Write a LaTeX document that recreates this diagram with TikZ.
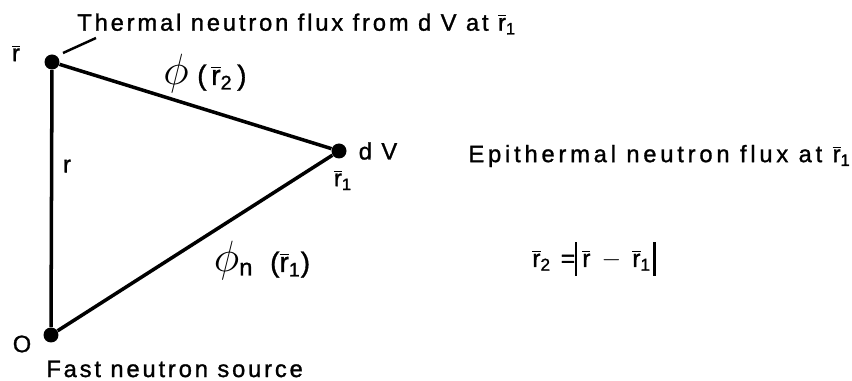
\documentclass[tikz,border=0pt]{standalone}
\usepackage{fontspec}
\setmainfont{Liberation Sans}[LetterSpace=12, FakeBold=1.2]
\usetikzlibrary{positioning}
\newcommand{\rb}{$\overline{\mbox{r}}$}
\newcommand{\rbs}[1]{$\overline{\mbox{r}}$\textsubscript{#1}}
\newcommand{\absbar}{\vrule width 1.3pt height 14pt depth 5pt}

\begin{document}
\begin{tikzpicture}[x=0.02cm, y=-0.02cm,
  dot/.style={circle, fill=black, inner sep=0pt, minimum size=0.3cm},
  edge/.style={line width=2pt},
  lbl/.style={font=\fontsize{13.5}{15}\selectfont, inner sep=0pt},
  flux/.style={font=\fontsize{16}{18}\selectfont, inner sep=0pt}
]
  \useasboundingbox (0,0) rectangle (852,381);

  % the three points
  \node[dot] (top) at (52,62) {};
  \node[dot] (dv) at (339,151) {};
  \node[dot] (src) at (51,335) {};

  \draw[edge] (top) -- (src);
  \draw[edge] (top) -- (dv);
  \draw[edge] (src) -- (dv);

  % labels at the points
  \node[lbl] (rtop) at (16,53) {\rb};
  \node[lbl] (dvlbl) at (378,151) {d V};
  \node[lbl] (r1lbl) at (343,180) {\rbs{1}};
  \node[lbl] (olbl) at (22,344) {O};
  \node[lbl, anchor=west] (fast) at (46,369) {Fast neutron source};
  \node[lbl] (rside) at (67,166) {r};

  % thermal flux label with leader
  \node[lbl, anchor=west] (therm) at (77,24) {Thermal neutron flux from d V at \rbs{1}};
  \coordinate (leadA) at (63,53);
  \coordinate (leadB) at (96,38);
  \draw[line width=1.4pt] (leadA) -- (leadB);

  % fluxes on the edges
  \node[flux] (phi2) at (205,74) {{\fontsize{23}{25}\selectfont$\phi$}\hspace{0.3em}(\,\rbs{2}\,)};
  \node[flux] (phin) at (262,261) {{\fontsize{23}{25}\selectfont$\phi$}\rlap{\raisebox{-2pt}{\fontsize{13.5}{15}\selectfont n}}\hspace{1.1em}(\rbs{1})};

  % right hand side
  \node[lbl, anchor=east, font=\fontsize{13.5}{15}\selectfont\addfontfeatures{LetterSpace=16}] (epi) at (851,156) {Epithermal neutron flux at \rbs{1}};
  \node[lbl, font=\fontsize{14}{16}\selectfont] (dist) at (594,259) {\rbs{2} =\absbar\hspace{0.2em}\rb\hspace{0.45em}$-$\hspace{0.45em}\rbs{1}\hspace{0.1em}\absbar};
\end{tikzpicture}
\end{document}
